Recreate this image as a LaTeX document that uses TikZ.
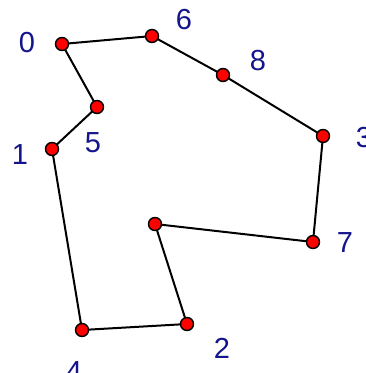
\documentclass[tikz,border=0pt]{standalone}
\usepackage{fontspec}
\setmainfont{Liberation Sans}
\usepackage{xcolor}
\usepackage{tikz}
\usetikzlibrary{positioning, backgrounds}
\definecolor{navy}{RGB}{20,20,140}

\begin{document}
\begin{tikzpicture}[x=1pt, y=-1pt,
    pt/.style={circle, draw=black, fill=red, line width=1.4pt, minimum size=13pt, inner sep=0pt},
    lbl/.style={text=navy, font=\fontsize{29}{30}\selectfont, inner sep=0pt},
    edge/.style={black, line width=2pt}]
    \useasboundingbox (0,0) rectangle (366,373);
    % Punkte
    \node[pt] (n0) at (62,44) {};
    \node[pt] (n6) at (152,36) {};
    \node[pt] (n8) at (223,75) {};
    \node[pt] (n3) at (323,136) {};
    \node[pt] (n7) at (313,242) {};
    \node[pt] (n9) at (155,224) {};
    \node[pt] (n2) at (187,324) {};
    \node[pt] (n4) at (82,330) {};
    \node[pt] (n1) at (52,149) {};
    \node[pt] (n5) at (97,107) {};

    % Polygon
    \begin{scope}[on background layer]
    \draw[edge] (n0.center) -- (n6.center) -- (n8.center) -- (n3.center) -- (n7.center)
        -- (n9.center) -- (n2.center) -- (n4.center) -- (n1.center) -- (n5.center) -- cycle;
    \end{scope}

    % Beschriftungen
    \node[lbl] (l0) at (27,43) {0};
    \node[lbl] (l6) at (184,20) {6};
    \node[lbl] (l8) at (258,61) {8};
    \node[lbl] (l3) at (364,138) {3};
    \node[lbl] (l7) at (345,243) {7};
    \node[lbl] (l2) at (222,348) {2};
    \node[lbl] (l4) at (74,372) {4};
    \node[lbl] (l1) at (20,155) {1};
    \node[lbl] (l5) at (93,143) {5};
\end{tikzpicture}
\end{document}
